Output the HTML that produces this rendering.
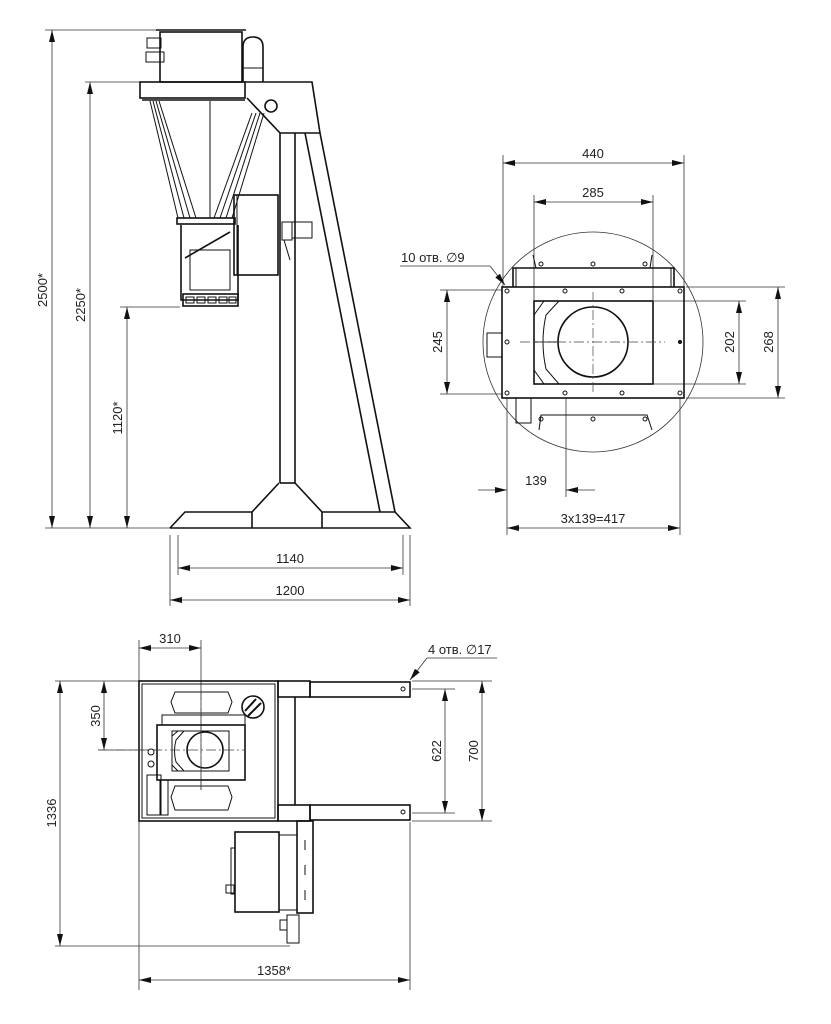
<!DOCTYPE html>
<html><head><meta charset="utf-8"><style>
html,body{margin:0;padding:0;background:#fff;}
svg{display:block;}
text{font-family:"Liberation Sans",sans-serif;font-size:13px;fill:#222;}
.k{fill:none;stroke:#111;stroke-width:1.6;}
.m{fill:none;stroke:#111;stroke-width:1;}
.d{fill:none;stroke:#333;stroke-width:0.8;}
.c{fill:none;stroke:#444;stroke-width:0.7;stroke-dasharray:10 3 2 3;}
.h{fill:#fff;stroke:#111;stroke-width:1;}
</style></head><body>
<svg width="831" height="1024" viewBox="0 0 831 1024" xmlns="http://www.w3.org/2000/svg">
<defs>
<marker id="a" viewBox="0 0 12 6" refX="12" refY="3" markerWidth="12" markerHeight="6" orient="auto-start-reverse" markerUnits="userSpaceOnUse"><path d="M0,0 L12,3 L0,6z" fill="#111"/></marker>
</defs>

<!-- ===== FRONT VIEW ===== -->
<g class="d">
<line x1="45" y1="30" x2="160" y2="30"/><line x1="45" y1="528" x2="170" y2="528"/>
<line x1="85" y1="82" x2="140" y2="82"/><line x1="120" y1="307" x2="180" y2="307"/>
</g>
<g class="d" marker-start="url(#a)" marker-end="url(#a)">
<line x1="52" y1="30" x2="52" y2="528"/>
<line x1="90" y1="82" x2="90" y2="528"/>
<line x1="127" y1="307" x2="127" y2="528"/>
</g>
<text transform="translate(47,290) rotate(-90)" text-anchor="middle">2500*</text>
<text transform="translate(85,305) rotate(-90)" text-anchor="middle">2250*</text>
<text transform="translate(122,418) rotate(-90)" text-anchor="middle">1120*</text>

<g class="d">
<line x1="178" y1="535" x2="178" y2="575"/><line x1="403" y1="535" x2="403" y2="575"/>
<line x1="170" y1="535" x2="170" y2="606"/><line x1="410" y1="535" x2="410" y2="606"/>
</g>
<g class="d" marker-start="url(#a)" marker-end="url(#a)">
<line x1="178" y1="568" x2="403" y2="568"/>
<line x1="170" y1="600" x2="410" y2="600"/>
</g>
<text x="290" y="563" text-anchor="middle">1140</text>
<text x="290" y="595" text-anchor="middle">1200</text>

<rect class="k" x="160" y="32" width="82" height="50"/>
<line class="k" x1="156" y1="30" x2="246" y2="30"/>
<path class="k" d="M243,82 V47 Q243,37 253,37 Q263,37 263,47 V82"/>
<rect class="m" x="243" y="68" width="20" height="14"/>
<rect class="m" x="147" y="38" width="14" height="10"/><rect class="m" x="146" y="52" width="18" height="10"/>
<rect class="k" x="140" y="82" width="105" height="16"/>
<path class="k" d="M245,82 H312 L320,133 H280 L247,98"/>
<circle class="k" cx="271" cy="106" r="6"/>
<line class="k" x1="142" y1="100" x2="245" y2="100"/>
<line class="k" x1="280" y1="133" x2="280" y2="483"/>
<line class="k" x1="295" y1="133" x2="295" y2="483"/>
<line class="k" x1="280" y1="483" x2="295" y2="483"/>
<line class="k" x1="305" y1="133" x2="380" y2="512"/>
<line class="k" x1="320" y1="133" x2="395" y2="512"/>
<path class="k" d="M170,528 L185,512 H252 L279,483 M295,483 L322,512 H395 L410,528 H170"/>
<line class="k" x1="252" y1="512" x2="252" y2="528"/><line class="k" x1="322" y1="512" x2="322" y2="528"/>
<g class="m">
<line x1="150" y1="101" x2="178" y2="218"/><line x1="153" y1="101" x2="184" y2="218"/><line x1="156" y1="101" x2="190" y2="218"/><line x1="159" y1="101" x2="196" y2="218"/>
<line x1="264" y1="113" x2="232" y2="218"/><line x1="260" y1="113" x2="226" y2="218"/><line x1="256" y1="113" x2="220" y2="218"/><line x1="252" y1="113" x2="214" y2="218"/>
<line x1="210" y1="101" x2="210" y2="218"/>
</g>
<rect class="k" x="177" y="218" width="58" height="6"/>
<path class="k" d="M181,225 V300 H238 V225"/>
<rect class="m" x="190" y="250" width="40" height="40"/>
<line class="k" x1="185" y1="258" x2="230" y2="232"/>
<rect class="k" x="183" y="294" width="55" height="12"/>
<g class="m"><rect x="186" y="297" width="8" height="6"/><rect x="197" y="297" width="8" height="6"/><rect x="208" y="297" width="8" height="6"/><rect x="219" y="297" width="8" height="6"/><rect x="229" y="297" width="7" height="6"/></g>
<rect class="k" x="234" y="195" width="44" height="80"/>
<line class="m" x1="237" y1="195" x2="237" y2="275"/>
<rect class="m" x="282" y="222" width="10" height="18"/><rect class="m" x="292" y="222" width="20" height="16"/>
<line class="m" x1="284" y1="240" x2="290" y2="260"/>

<!-- ===== RIGHT DETAIL VIEW ===== -->
<circle class="d" cx="593" cy="342" r="110"/>
<g class="d">
<line x1="503" y1="155" x2="503" y2="287"/><line x1="684" y1="155" x2="684" y2="287"/>
<line x1="534" y1="195" x2="534" y2="300"/><line x1="653" y1="195" x2="653" y2="300"/>
<line x1="440" y1="290" x2="502" y2="290"/><line x1="440" y1="394" x2="502" y2="394"/>
<line x1="654" y1="301" x2="746" y2="301"/><line x1="654" y1="384" x2="746" y2="384"/>
<line x1="686" y1="287" x2="785" y2="287"/><line x1="686" y1="398" x2="785" y2="398"/>
<line x1="507" y1="398" x2="507" y2="535"/><line x1="566" y1="398" x2="566" y2="497"/><line x1="680" y1="398" x2="680" y2="535"/>
</g>
<g class="d" marker-start="url(#a)" marker-end="url(#a)">
<line x1="503" y1="163" x2="684" y2="163"/>
<line x1="534" y1="202" x2="653" y2="202"/>
<line x1="447" y1="290" x2="447" y2="394"/>
<line x1="739" y1="301" x2="739" y2="384"/>
<line x1="778" y1="287" x2="778" y2="398"/>
<line x1="507" y1="528" x2="680" y2="528"/>
</g>
<g class="d" marker-end="url(#a)"><line x1="478" y1="490" x2="507" y2="490"/><line x1="595" y1="490" x2="566" y2="490"/></g>
<text x="593" y="158" text-anchor="middle">440</text>
<text x="593" y="197" text-anchor="middle">285</text>
<text transform="translate(442,342) rotate(-90)" text-anchor="middle">245</text>
<text transform="translate(734,342) rotate(-90)" text-anchor="middle">202</text>
<text transform="translate(773,342) rotate(-90)" text-anchor="middle">268</text>
<text x="536" y="485" text-anchor="middle">139</text>
<text x="593" y="523" text-anchor="middle">3x139=417</text>
<text x="401" y="262">10 отв. ∅9</text>
<line class="d" x1="400" y1="266" x2="490" y2="266"/>
<line class="d" x1="490" y1="266" x2="505" y2="285" marker-end="url(#a)"/>
<path class="k" d="M513,287 V268 H674 V287"/>
<line class="m" x1="516" y1="268" x2="516" y2="287"/><line class="m" x1="671" y1="268" x2="671" y2="287"/>
<line class="m" x1="536" y1="268" x2="533" y2="255"/><line class="m" x1="650" y1="268" x2="652" y2="255"/>
<rect class="k" x="502" y="287" width="182" height="111"/>
<rect class="k" x="534" y="301" width="119" height="83"/>
<path class="m" d="M534,315 L544,301 M559,301 L546,315 Q540,342 546,369 L559,384 M544,384 L534,370 M534,342 H559"/>
<circle class="k" cx="593" cy="342" r="35"/>
<line class="c" x1="520" y1="342" x2="665" y2="342"/><line class="c" x1="593" y1="292" x2="593" y2="395"/>
<g class="h">
<circle cx="507" cy="291" r="2"/><circle cx="565" cy="291" r="2"/><circle cx="622" cy="291" r="2"/><circle cx="680" cy="291" r="2"/>
<circle cx="507" cy="393" r="2"/><circle cx="565" cy="393" r="2"/><circle cx="622" cy="393" r="2"/><circle cx="680" cy="393" r="2"/>
<circle cx="507" cy="342" r="2"/><circle cx="541" cy="264" r="2"/><circle cx="593" cy="264" r="2"/><circle cx="645" cy="264" r="2"/>
<circle cx="541" cy="419" r="2"/><circle cx="593" cy="419" r="2"/><circle cx="645" cy="419" r="2"/>
</g>
<circle cx="680" cy="342" r="2" fill="#111"/>
<path class="m" d="M539,430 L541,415 H647 L652,430"/>
<rect class="m" x="516" y="398" width="15" height="25"/>
<rect class="m" x="487" y="333" width="15" height="24"/>

<!-- ===== TOP VIEW ===== -->
<g class="d">
<line x1="139" y1="640" x2="139" y2="990"/><line x1="201" y1="640" x2="201" y2="790"/>
<line x1="55" y1="681" x2="139" y2="681"/><line x1="98" y1="750" x2="160" y2="750"/>
<line x1="55" y1="946" x2="290" y2="946"/>
<line x1="410" y1="822" x2="410" y2="990"/>
<line x1="412" y1="689" x2="455" y2="689"/><line x1="412" y1="813" x2="455" y2="813"/>
<line x1="412" y1="681" x2="492" y2="681"/><line x1="412" y1="821" x2="492" y2="821"/>
</g>
<g class="d" marker-start="url(#a)" marker-end="url(#a)">
<line x1="139" y1="648" x2="201" y2="648"/>
<line x1="104" y1="681" x2="104" y2="750"/>
<line x1="60" y1="681" x2="60" y2="946"/>
<line x1="445" y1="689" x2="445" y2="813"/>
<line x1="482" y1="681" x2="482" y2="821"/>
<line x1="139" y1="980" x2="410" y2="980"/>
</g>
<text x="170" y="643" text-anchor="middle">310</text>
<text transform="translate(100,716) rotate(-90)" text-anchor="middle">350</text>
<text transform="translate(56,813) rotate(-90)" text-anchor="middle">1336</text>
<text transform="translate(441,751) rotate(-90)" text-anchor="middle">622</text>
<text transform="translate(478,751) rotate(-90)" text-anchor="middle">700</text>
<text x="274" y="975" text-anchor="middle">1358*</text>
<text x="428" y="654">4 отв. ∅17</text>
<line class="d" x1="427" y1="658" x2="497" y2="658"/>
<line class="d" x1="427" y1="658" x2="410" y2="680" marker-end="url(#a)"/>

<rect class="k" x="139" y="681" width="139" height="140"/>
<rect class="m" x="142" y="684" width="133" height="134"/>
<rect class="k" x="278" y="681" width="32" height="16"/><rect class="k" x="310" y="682" width="100" height="15"/>
<rect class="k" x="278" y="805" width="32" height="16"/><rect class="k" x="310" y="805" width="100" height="15"/>
<line class="k" x1="295" y1="697" x2="295" y2="805"/>
<circle class="h" cx="403" cy="689" r="2"/><circle class="h" cx="403" cy="812" r="2"/>
<path class="m" d="M175,692 H228 L232,702 L228,713 H175 L171,702 Z"/>
<path class="m" d="M175,786 H228 L232,797 L228,810 H175 L171,797 Z"/>
<rect class="m" x="162" y="715" width="83" height="10"/>
<rect class="k" x="157" y="725" width="88" height="55"/>
<rect class="m" x="172" y="731" width="57" height="40"/>
<path class="m" d="M172,736 L178,731 M184,731 L176,740 Q173,751 176,762 L184,771 M178,771 L172,765"/>
<circle class="k" cx="205" cy="750" r="18"/>
<line class="c" x1="98" y1="750" x2="245" y2="750"/><line class="c" x1="201" y1="690" x2="201" y2="790"/>
<circle class="k" cx="253" cy="707" r="11"/>
<g stroke="#111" stroke-width="2"><line x1="245" y1="711" x2="256" y2="699"/><line x1="248" y1="716" x2="261" y2="703"/></g>
<rect class="m" x="147" y="775" width="14" height="40"/>
<rect class="m" x="160" y="780" width="8" height="35"/>
<circle class="h" cx="151" cy="752" r="3"/><circle class="h" cx="151" cy="764" r="3"/>
<rect class="k" x="235" y="832" width="44" height="80"/>
<rect class="m" x="279" y="835" width="18" height="75"/>
<rect class="k" x="297" y="821" width="16" height="92"/>
<line class="m" x1="305" y1="840" x2="305" y2="850"/><line class="m" x1="305" y1="865" x2="305" y2="875"/><line class="m" x1="305" y1="890" x2="305" y2="900"/>
<rect class="m" x="231" y="848" width="4" height="46"/>
<rect class="m" x="226" y="885" width="8" height="8"/>
<rect class="m" x="287" y="915" width="12" height="28"/><rect class="m" x="280" y="920" width="7" height="10"/>
</svg>
</body></html>
